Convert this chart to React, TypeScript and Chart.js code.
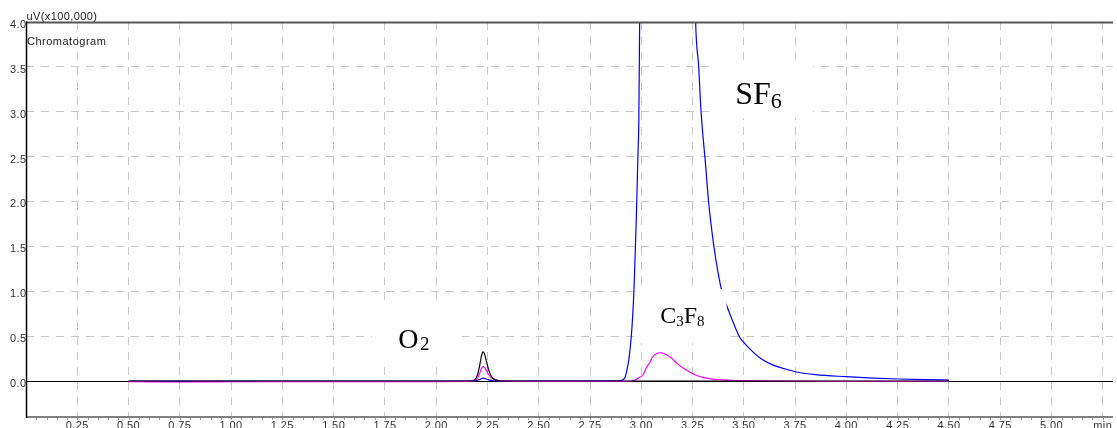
import React, { useEffect, useRef } from "react";
import { Chart, registerables } from "chart.js";

Chart.register(...registerables);

// ---- Data (time in min, signal in uV x100,000) ----
const blackTimes = [0.5, 1.0, 1.5, 2.0, 2.15, 2.17, 2.18, 2.19, 2.2, 2.21, 2.22, 2.228, 2.235, 2.245, 2.255, 2.265, 2.275, 2.29, 2.31, 2.35, 2.6, 3.0, 3.5, 4.0, 4.5];
const blackValues = [0, 0, 0, 0, 0, 0.001, 0.004, 0.018, 0.06, 0.15, 0.27, 0.326, 0.305, 0.22, 0.13, 0.07, 0.035, 0.012, 0.003, 0, 0, 0, 0, 0, 0];

const magentaTimes = [0.5, 0.6, 0.75, 0.9, 1.2, 1.6, 2.0, 2.15, 2.18, 2.19, 2.2, 2.21, 2.22, 2.228, 2.235, 2.245, 2.255, 2.265, 2.28, 2.3, 2.33, 2.4, 2.6, 2.8, 2.94, 2.96, 2.975, 2.99, 3.008, 3.025, 3.04, 3.056, 3.075, 3.09, 3.1, 3.12, 3.15, 3.17, 3.2, 3.236, 3.27, 3.3, 3.34, 3.38, 3.45, 3.55, 3.7, 4.0, 4.5];
const magentaValues = [-0.006, -0.01, -0.011, -0.01, -0.007, -0.006, -0.006, -0.005, -0.002, 0.006, 0.028, 0.075, 0.135, 0.16, 0.152, 0.115, 0.075, 0.045, 0.02, 0.007, 0.001, -0.003, -0.004, -0.005, -0.004, 0.003, 0.015, 0.04, 0.067, 0.15, 0.2, 0.27, 0.305, 0.315, 0.313, 0.295, 0.25, 0.205, 0.15, 0.1, 0.062, 0.04, 0.024, 0.015, 0.007, 0.003, 0, -0.004, -0.005];

const blueTimes = [0.5, 1.0, 1.5, 2.0, 2.17, 2.19, 2.21, 2.228, 2.245, 2.26, 2.28, 2.32, 2.6, 2.85, 2.895, 2.91, 2.92, 2.93, 2.94, 2.951, 2.958, 2.964, 2.971, 2.978, 2.984, 2.988, 2.992, 2.998, 3.03, 3.1, 3.18, 3.235, 3.255, 3.265, 3.28, 3.29, 3.3, 3.312, 3.328, 3.354, 3.375, 3.393, 3.415, 3.44, 3.479, 3.504, 3.528, 3.577, 3.64, 3.7, 3.757, 3.85, 4.0, 4.13, 4.26, 4.38, 4.5];
const blueValues = [0, 0, 0, 0, 0, 0.003, 0.016, 0.032, 0.022, 0.01, 0.003, 0, 0, 0.001, 0.004, 0.015, 0.035, 0.12, 0.25, 0.49, 0.72, 1.0, 1.46, 2.0, 2.55, 2.9, 4.0, 5.5, 10, 16, 14, 7.5, 5.2, 4.0, 3.5, 3.05, 2.75, 2.45, 2.0, 1.5, 1.2, 1.0, 0.85, 0.7, 0.49, 0.42, 0.36, 0.26, 0.18, 0.135, 0.1, 0.07, 0.048, 0.033, 0.022, 0.015, 0.01];

const xTickValues = [0.25, 0.5, 0.75, 1.0, 1.25, 1.5, 1.75, 2.0, 2.25, 2.5, 2.75, 3.0, 3.25, 3.5, 3.75, 4.0, 4.25, 4.5, 4.75, 5.0, 5.25];
const xTickLabels = ["0.25", "0.50", "0.75", "1.00", "1.25", "1.50", "1.75", "2.00", "2.25", "2.50", "2.75", "3.00", "3.25", "3.50", "3.75", "4.00", "4.25", "4.50", "4.75", "5.00", "min"];
const yTickValues = [0, 0.5, 1.0, 1.5, 2.0, 2.5, 3.0, 3.5, 4.0];
const yTickLabels = ["0.0", "0.5", "1.0", "1.5", "2.0", "2.5", "3.0", "3.5", "4.0"];
const xGridValues = xTickValues;
const yGridValues = [0.5, 1.0, 1.5, 2.0, 2.5, 3.0, 3.5];

const X_MIN = 0;
const X_MAX = 5.3;
const Y_MIN = -0.39;
const Y_MAX = 4.0;
const MINOR_STEP = 0.05;

const unitLabel = "uV(x100,000)";
const chartName = "Chromatogram";

// peak annotations, anchored in data units
const peakLabels = [
  { t: 1.815, v: 0.368, parts: [{ s: "O", size: 28, dy: 0, gap: 0 }, { s: "2", size: 19, dy: 2, gap: 1.5 }] },
  { t: 3.458, v: 3.086, parts: [{ s: "SF", size: 32, dy: 0, gap: 0 }, { s: "6", size: 22, dy: 4, gap: 0 }] },
  { t: 3.092, v: 0.65, parts: [{ s: "C", size: 24, dy: 0, gap: 0 }, { s: "3", size: 15, dy: 3.5, gap: 0 }, { s: "F", size: 24, dy: 0, gap: 0 }, { s: "8", size: 15, dy: 3.5, gap: 0 }] },
];
// white backgrounds behind annotations (data units)
const boxesBelow = [
  { t0: 3.335, t1: 3.837, v0: 2.93, v1: 3.554 },
  { t0: 1.687, t1: 2.126, v0: 0.167, v1: 0.847 },
];
const boxesAbove = [{ t0: 2.984, t1: 3.416, v0: 0.423, v1: 1.025 }];

const SANS = '"Liberation Sans", Arial, sans-serif';
const SERIF = '"Liberation Serif", "Times New Roman", serif';

function fillBoxes(chart: any, boxes: any[]) {
  const { ctx, scales } = chart;
  const x = scales.x, y = scales.y;
  ctx.save();
  ctx.fillStyle = "#ffffff";
  for (const b of boxes) {
    const x0 = x.getPixelForValue(b.t0), x1 = x.getPixelForValue(b.t1);
    const y0 = y.getPixelForValue(b.v1), y1 = y.getPixelForValue(b.v0);
    ctx.fillRect(x0, y0, x1 - x0, y1 - y0);
  }
  ctx.restore();
}

const overlayPlugin = {
  id: "overlay",
  beforeDatasetsDraw(chart: any) {
    const { ctx, chartArea: a, scales } = chart;
    fillBoxes(chart, boxesBelow);
    ctx.save();
    ctx.strokeStyle = "#000";
    ctx.lineWidth = 1;
    const y0 = Math.round(scales.y.getPixelForValue(0)) + 0.5;
    ctx.beginPath();
    ctx.moveTo(a.left, y0);
    ctx.lineTo(a.right, y0);
    ctx.stroke();
    ctx.restore();
  },
  afterDatasetsDraw(chart: any) {
    const { ctx, chartArea: a, scales } = chart;
    const x = scales.x, y = scales.y;
    fillBoxes(chart, boxesAbove);
    ctx.save();
    // peak labels
    ctx.fillStyle = "#000";
    ctx.textBaseline = "alphabetic";
    ctx.textAlign = "left";
    for (const l of peakLabels) {
      let px = x.getPixelForValue(l.t);
      const py = y.getPixelForValue(l.v);
      for (const p of l.parts) {
        px += p.gap;
        ctx.font = `${p.size}px ${SERIF}`;
        ctx.fillText(p.s, px, py + p.dy);
        px += ctx.measureText(p.s).width;
      }
    }
    // frame lines
    ctx.lineCap = "butt";
    ctx.strokeStyle = "#555";
    ctx.lineWidth = 2;
    ctx.beginPath();
    ctx.moveTo(a.left, a.top + 0.5);
    ctx.lineTo(a.right, a.top + 0.5);
    ctx.stroke();
    ctx.strokeStyle = "#808080";
    ctx.beginPath();
    ctx.moveTo(a.left, a.bottom + 1);
    ctx.lineTo(a.right, a.bottom + 1);
    ctx.stroke();
    ctx.strokeStyle = "#000";
    ctx.lineWidth = 1.5;
    ctx.beginPath();
    ctx.moveTo(a.left + 0.5, a.top - 0.5);
    ctx.lineTo(a.left + 0.5, a.bottom + 2);
    ctx.stroke();
    // minor ticks
    ctx.strokeStyle = "#999";
    ctx.lineWidth = 1;
    const n = Math.floor((X_MAX - X_MIN) / MINOR_STEP);
    for (let i = 1; i <= n; i++) {
      const px = Math.round(x.getPixelForValue(X_MIN + i * MINOR_STEP)) + 0.5;
      ctx.beginPath();
      ctx.moveTo(px, a.bottom + 2);
      ctx.lineTo(px, a.bottom + 4);
      ctx.stroke();
    }
    // tick labels
    ctx.fillStyle = "#333";
    ctx.font = `11px ${SANS}`;
    (ctx as any).letterSpacing = "0.4px";
    ctx.textAlign = "center";
    xTickValues.forEach((v, i) => {
      ctx.fillText(xTickLabels[i], x.getPixelForValue(v), a.bottom + 13);
    });
    ctx.textAlign = "right";
    yTickValues.forEach((v, i) => {
      ctx.fillText(yTickLabels[i], a.left + 0.5, y.getPixelForValue(v) + 6);
    });
    ctx.textAlign = "left";
    ctx.fillStyle = "#222";
    ctx.fillText(unitLabel, a.left + 0.5, a.top - 2);
    (ctx as any).letterSpacing = "0.5px";
    ctx.fillText(chartName, a.left + 1, a.top + 23);
    ctx.restore();
  },
};

function series(times: number[], values: number[]) {
  return times.map((t, i) => ({ x: t, y: values[i] }));
}

export default function App() {
  const ref = useRef<HTMLCanvasElement | null>(null);
  useEffect(() => {
    if (!ref.current) return;
    const chart = new Chart(ref.current, {
      type: "line",
      data: {
        datasets: [
          { label: "Ch1", data: series(blackTimes, blackValues), borderColor: "#000000", borderWidth: 1.2 },
          { label: "Ch2", data: series(magentaTimes, magentaValues), borderColor: "#ff00ff", borderWidth: 1.2 },
          { label: "Ch3", data: series(blueTimes, blueValues), borderColor: "#0000ff", borderWidth: 1.2 },
        ],
      },
      options: {
        animation: false,
        responsive: false,
        devicePixelRatio: 1,
        layout: { padding: { top: 22, right: 4, left: 0, bottom: 0 } },
        plugins: { legend: { display: false }, tooltip: { enabled: false } },
        elements: {
          point: { radius: 0, hoverRadius: 0 },
          line: { cubicInterpolationMode: "monotone", fill: false },
        },
        scales: {
          x: {
            type: "linear",
            min: X_MIN,
            max: X_MAX,
            afterFit: (s: any) => { s.height = 12; },
            afterBuildTicks: (s: any) => { s.ticks = xGridValues.map((v) => ({ value: v })); },
            ticks: { display: false },
            grid: { color: "#c8c8c8", lineWidth: 1, drawTicks: false },
            border: { display: false, dash: [8, 7] },
          },
          y: {
            type: "linear",
            min: Y_MIN,
            max: Y_MAX,
            afterFit: (s: any) => { s.width = 26; },
            afterBuildTicks: (s: any) => { s.ticks = yGridValues.map((v) => ({ value: v })); },
            ticks: { display: false },
            grid: { color: "#c8c8c8", lineWidth: 1, drawTicks: false },
            border: { display: false, dash: [8, 7] },
          },
        },
      } as any,
      plugins: [overlayPlugin],
    });
    return () => chart.destroy();
  }, []);
  return (
    <div style={{ position: "absolute", left: 0, top: 0, width: 1117, height: 428, background: "#fff" }}>
      <canvas ref={ref} width={1117} height={428} />
    </div>
  );
}
